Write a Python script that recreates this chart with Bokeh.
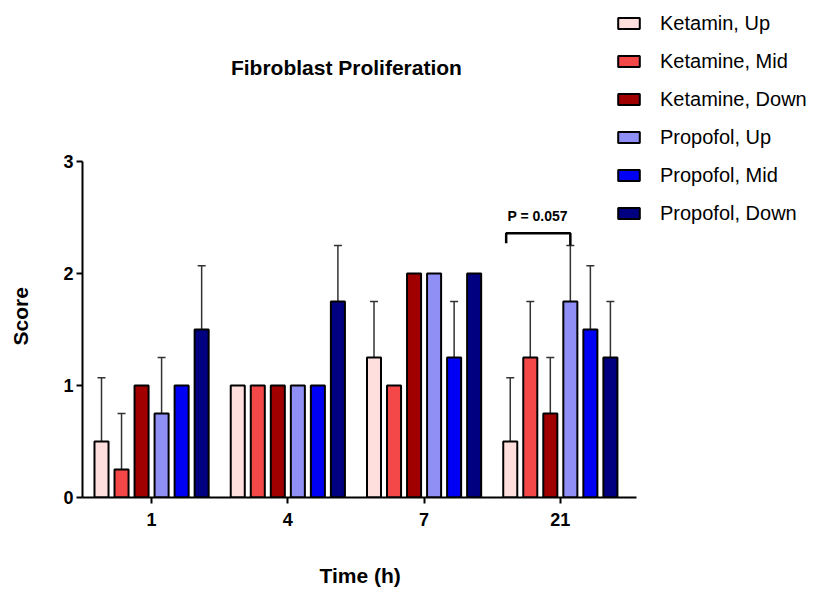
from bokeh.plotting import figure
from bokeh.models import (Range1d, FixedTicker, ColumnDataSource, Whisker, TeeHead,
                          Legend, LegendItem, Label, Title)
from bokeh.embed import file_html
from bokeh.resources import INLINE

# ---- data ----
times = ["1", "4", "7", "21"]
series = ["Ketamin, Up", "Ketamine, Mid", "Ketamine, Down",
          "Propofol, Up", "Propofol, Mid", "Propofol, Down"]
colors = ["#FFDEDE", "#F44848", "#A00000", "#8F8FF5", "#0000F5", "#000080"]
ket_up = [0.5, 1.0, 1.25, 0.5]
ket_mid = [0.25, 1.0, 1.0, 1.25]
ket_down = [1.0, 1.0, 2.0, 0.75]
pro_up = [0.75, 1.0, 2.0, 1.75]
pro_mid = [1.0, 1.0, 1.25, 1.5]
pro_down = [1.5, 1.75, 2.0, 1.25]
err_ket_up = [0.57, 0.0, 0.5, 0.57]
err_ket_mid = [0.5, 0.0, 0.0, 0.5]
err_ket_down = [0.0, 0.0, 0.0, 0.5]
err_pro_up = [0.5, 0.0, 0.0, 0.5]
err_pro_mid = [0.0, 0.0, 0.5, 0.57]
err_pro_down = [0.57, 0.5, 0.0, 0.5]
p_text = "P = 0.057"
y_ticks = [0, 1, 2, 3]

values = [ket_up, ket_mid, ket_down, pro_up, pro_mid, pro_down]
errors = [err_ket_up, err_ket_mid, err_ket_down, err_pro_up, err_pro_mid, err_pro_down]

FONT = "Liberation Sans"
W, H = 812, 590
X0, X1 = -0.007, 4.059          # drawn extent of the x axis
Y0, Y1 = 0, 3                    # drawn extent of the y axis
p = figure(width=W, height=H, output_backend="svg", toolbar_location=None,
           x_range=Range1d(X0, 5.3508), y_range=Range1d(Y0, 4.4375),
           min_border_left=82, min_border_right=0, min_border_top=0,
           min_border_bottom=93)
p.title = None
p.grid.visible = False
p.outline_line_color = None
p.background_fill_color = "white"
p.border_fill_color = "white"

centers = [i + 0.5 for i in range(len(times))]
step = 0.147
bw = 0.103

items = []
wx, wlo, whi = [], [], []
for j, (name, col, vals, errs) in enumerate(zip(series, colors, values, errors)):
    xs = [c + (j - 2.5) * step for c in centers]
    src = ColumnDataSource(dict(x=xs, top=vals))
    r = p.vbar(x="x", top="top", width=bw, source=src, fill_color=col,
               line_color="black", line_width=2)
    items.append(LegendItem(label=name, renderers=[r]))
    for x, v, e in zip(xs, vals, errs):
        if e > 0:
            wx.append(x); wlo.append(v); whi.append(v + e)

wsrc = ColumnDataSource(dict(x=wx, lo=wlo, hi=whi))
wh = Whisker(base="x", lower="lo", upper="hi", source=wsrc, dimension="height",
             line_color="#333333", line_width=1.5, lower_head=None,
             upper_head=TeeHead(size=8, line_color="#333333", line_width=1.5))
p.add_layout(wh)

# significance bracket between Ketamin Up and Propofol Up at 21 h
xa = centers[3] + (0 - 2.5) * step
xb = centers[3] + (3 - 2.5) * step
p.line([xa - 0.03, xa - 0.03, xb, xb], [2.27, 2.36, 2.36, 2.25],
       line_color="black", line_width=2.5)
p.add_layout(Label(x=(xa + xb) / 2 - 0.02, y=2.44, text=p_text, text_font=FONT,
                   text_font_size="14px", text_font_style="bold", text_color="black",
                   text_align="center", text_baseline="bottom"))

# title
p.add_layout(Label(x=1.93, y=3.84, text="Fibroblast Proliferation", text_font=FONT,
                   text_font_size="21px", text_font_style="bold", text_color="black",
                   text_align="center", text_baseline="middle"))

# axes
xa_ = p.xaxis[0]
xa_.ticker = FixedTicker(ticks=centers)
xa_.major_label_overrides = {c: t for c, t in zip(centers, times)}
xa_.bounds = (X0, X1)
ya_ = p.yaxis[0]
ya_.ticker = FixedTicker(ticks=y_ticks)
ya_.bounds = (Y0, Y1)
for ax in (xa_, ya_):
    ax.axis_line_width = 2
    ax.axis_line_color = "black"
    ax.major_tick_line_width = 2
    ax.major_tick_out = 6
    ax.major_tick_in = 0
    ax.minor_tick_line_color = None
    ax.major_label_text_font = FONT
    ax.major_label_text_font_size = "18px"
    ax.major_label_text_font_style = "bold"
    ax.major_label_text_color = "black"
    ax.axis_label = " "          # spacer, the visible titles are placed below
    ax.axis_label_text_font = FONT
    ax.axis_label_text_font_size = "21px"
xa_.major_label_standoff = 9
xa_.axis_label_standoff = 7
ya_.major_label_standoff = 3
ya_.axis_label_standoff = 1

p.add_layout(Title(text="Time (h)", align="left", offset=237, standoff=0,
                   vertical_align="bottom", text_font=FONT, text_font_size="21px",
                   text_font_style="bold", text_color="black"), "below")
p.add_layout(Title(text="Score", align="left", offset=152, standoff=0,
                   vertical_align="top", text_font=FONT, text_font_size="21px",
                   text_font_style="bold", text_color="black"), "left")

legend = Legend(items=items, location=(533, 272), orientation="vertical",
                glyph_width=27, glyph_height=14, label_standoff=18,
                label_height=24, spacing=14, padding=0, margin=0,
                border_line_color=None, background_fill_alpha=0,
                label_text_font=FONT, label_text_font_size="20px",
                label_text_color="black")
p.add_layout(legend, "center")

open("out.html", "w").write(file_html(p, INLINE))
